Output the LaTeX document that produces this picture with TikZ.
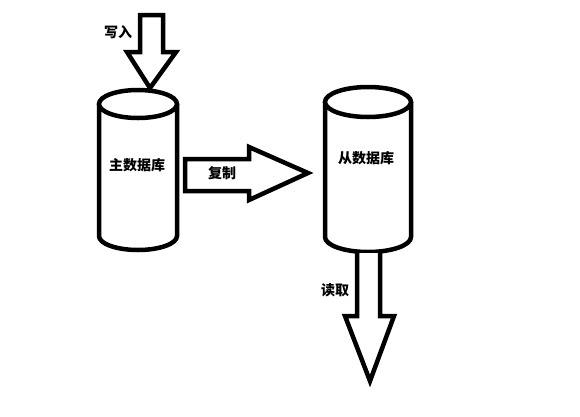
\documentclass[tikz,border=0pt]{standalone}
\usepackage{fontspec}
\newfontfamily\cjk{Noto Sans CJK SC}
\begin{document}
\begin{tikzpicture}[x=1pt,y=1pt,
  stroke/.style={draw=black,line width=4.5pt,line join=miter,fill=white},
  lbl/.style={font=\cjk\bfseries\fontsize{14}{14}\selectfont,inner sep=0pt}]
\useasboundingbox (0,0) rectangle (580,-416);
\fill[white] (0,0) rectangle (580,-416);
% master cylinder
\draw[stroke] (99,-104) -- (99,-236) arc[start angle=180,end angle=360,x radius=39,y radius=14] -- (177,-104);
\draw[stroke] (138,-104) ellipse[x radius=39,y radius=14];
% slave cylinder
\draw[stroke] (325,-102) -- (325,-237) arc[start angle=180,end angle=360,x radius=43,y radius=15] -- (411,-102);
\draw[stroke] (368,-102) ellipse[x radius=43,y radius=15];
% write arrow
\draw[stroke] (140,-15) -- (140,-52) -- (127,-52) -- (150,-88) -- (176,-52) -- (163,-52) -- (163,-15) -- cycle;
% replicate arrow
\draw[stroke] (185,-159) -- (249,-159) -- (249,-147) -- (308,-173) -- (249,-200) -- (249,-191) -- (185,-191) -- cycle;
% read arrow
\draw[stroke] (357,-253) -- (357,-316) -- (345,-316) -- (370,-381) -- (394,-316) -- (380,-316) -- (380,-253);
% labels
\node[lbl] (w) at (118,-32) {写入};
\node[lbl] (m) at (137,-165) {主数据库};
\node[lbl] (c) at (222,-173) {复制};
\node[lbl] (s) at (366,-158) {从数据库};
\node[lbl] (r) at (335,-290) {读取};
\end{tikzpicture}
\end{document}
